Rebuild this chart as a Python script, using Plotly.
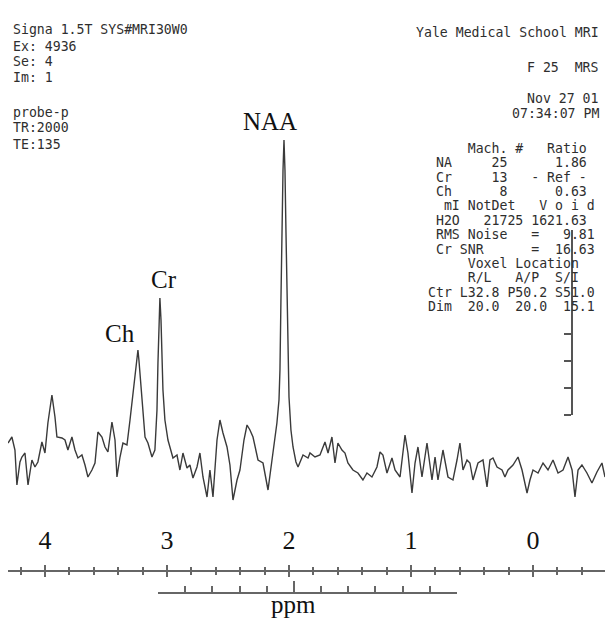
import plotly.graph_objects as go

# ---------------- data ----------------
ppm = [4.303, 4.271, 4.246, 4.230, 4.205, 4.189, 4.164, 4.139, 4.107, 4.082, 4.058, 4.025, 4.000,
       3.976, 3.943, 3.918, 3.902, 3.861, 3.836, 3.812, 3.779, 3.754, 3.730, 3.697, 3.672, 3.648,
       3.615, 3.590, 3.566, 3.533, 3.508, 3.484, 3.451, 3.426, 3.410, 3.385, 3.361, 3.328, 3.303,
       3.279, 3.262, 3.246, 3.238, 3.230, 3.221, 3.205, 3.180, 3.156, 3.123, 3.099, 3.082, 3.074,
       3.066, 3.058, 3.049, 3.041, 3.033, 3.017, 2.992, 2.976, 2.951, 2.918, 2.894, 2.869, 2.836,
       2.812, 2.787, 2.754, 2.730, 2.705, 2.672, 2.648, 2.623, 2.590, 2.566, 2.541, 2.508, 2.484,
       2.459, 2.426, 2.402, 2.369, 2.344, 2.320, 2.295, 2.254, 2.213, 2.172, 2.139, 2.115, 2.099,
       2.082, 2.074, 2.066, 2.058, 2.049, 2.041, 2.033, 2.025, 2.017, 2.008, 2.000, 1.984, 1.967,
       1.943, 1.926, 1.885, 1.844, 1.828, 1.787, 1.746, 1.705, 1.680, 1.648, 1.623, 1.599, 1.566,
       1.541, 1.517, 1.476, 1.435, 1.394, 1.361, 1.320, 1.279, 1.254, 1.230, 1.197, 1.156, 1.131,
       1.090, 1.049, 1.025, 0.992, 0.967, 0.943, 0.910, 0.869, 0.828, 0.803, 0.779, 0.738, 0.697,
       0.656, 0.623, 0.599, 0.574, 0.541, 0.517, 0.492, 0.451, 0.410, 0.377, 0.353, 0.328, 0.295,
       0.254, 0.230, 0.205, 0.164, 0.123, 0.090, 0.049, 0.025, 0.000, -0.041, -0.082, -0.123,
       -0.164, -0.205, -0.246, -0.287, -0.320, -0.344, -0.369, -0.401, -0.442, -0.483, -0.524,
       -0.565, -0.590]
signal = [17, 23, 10, -25, -2, 3, 7, -25, 0, -7, -2, 18, 7,
          37, 65, 43, 23, 22, 20, 10, 23, 10, 2, 5, -5, -17,
          -10, -3, 28, 23, 13, 8, 38, 20, -17, 3, 17, 15, 40,
          67, 85, 102, 110, 100, 85, 65, 23, 17, 3, 10, 50, 97,
          140, 162, 140, 97, 70, 40, 20, 13, 2, 5, -10, 7, -8,
          -5, -18, -7, 7, -17, -37, -10, -37, 20, 40, 27, 13, -5,
          -40, -20, -10, 20, 35, 30, 23, 0, -3, -30, 0, 20, 37,
          60, 90, 160, 230, 290, 320, 290, 230, 160, 100, 63, 30, 13,
          -2, -7, 5, 2, 7, 3, 5, 18, 7, 23, -3, 17, 10,
          7, -3, -10, -13, -20, -13, -17, -7, 8, 5, -13, 2, -10,
          -17, 25, 7, -33, -3, 13, -17, 17, -20, 3, -20, 10, -17,
          -20, 0, 17, -10, 0, -3, -20, -3, 0, -27, 0, 2, -7,
          -10, -17, -10, -5, 3, -10, -33, -20, -10, -13, -3, -10,
          0, -13, -10, 3, -10, -37, -10, -5, -13, -23, -12, -3,
          -17]

peak_labels = ["NAA", "Cr", "Ch"]
ppm_ticks = [4, 3, 2, 1, 0]
ppm_tick_labels = ["4", "3", "2", "1", "0"]

header_left = ["Signa 1.5T SYS#MRI30W0", "Ex: 4936", "Se: 4", "Im: 1",
               "probe-p", "TR:2000", "TE:135"]
header_right = ["Yale Medical School MRI", "F 25  MRS", "Nov 27 01", "07:34:07 PM"]
table_rows = ["     Mach. #   Ratio",
              " NA     25      1.86",
              " Cr     13   - Ref -",
              " Ch      8      0.63",
              "  mI NotDet   V o i d",
              " H2O   21725 1621.63",
              " RMS Noise   =   9.81",
              " Cr SNR      =  16.63",
              "     Voxel Location",
              "     R/L   A/P  S/I",
              "Ctr L32.8 P50.2 S51.0",
              "Dim  20.0  20.0  15.1"]

# ---------------- layout helpers ----------------
W, H = 613, 618


def px(x):
    return x / W


def py(y):
    return 1 - y / H


def nb(s):
    return s.replace(" ", "\u00a0")


X0, X1 = 8, 605
xrange_ = [4.303, -0.590]
mono = dict(family="DejaVu Sans Mono", size=13.2, color="#2e2e2e")
serif = "Liberation Serif, Times New Roman, serif"
axis_col = "#666666"

fig = go.Figure()
fig.add_trace(go.Scatter(x=ppm, y=signal, mode="lines",
                         line=dict(color="#3a3a3a", width=1.4),
                         showlegend=False, hoverinfo="skip"))
# empty traces so the extra axes are drawn
fig.add_trace(go.Scatter(x=[None], y=[None], xaxis="x2", yaxis="y", showlegend=False))
fig.add_trace(go.Scatter(x=[None], y=[None], xaxis="x3", yaxis="y", showlegend=False))
fig.add_trace(go.Scatter(x=[None], y=[None], xaxis="x", yaxis="y2", showlegend=False))

axis_pos = py(571)

fig.update_layout(
    width=W, height=H, margin=dict(l=0, r=0, t=0, b=0),
    paper_bgcolor="white", plot_bgcolor="rgba(0,0,0,0)",
    xaxis=dict(domain=[px(X0), px(X1)], range=xrange_, anchor="free", position=axis_pos,
               side="top", showline=True, linecolor=axis_col, linewidth=2,
               ticks="outside", ticklen=5, tickwidth=2, tickcolor=axis_col,
               tickvals=ppm_ticks, ticktext=ppm_tick_labels,
               tickfont=dict(family=serif, size=26, color="#111"),
               ticklabelstandoff=6,
               minor=dict(dtick=0.2, tick0=0, ticks="outside", ticklen=3, tickwidth=1.5,
                          tickcolor=axis_col, showgrid=False),
               showgrid=False, zeroline=False, fixedrange=True),
    xaxis3=dict(domain=[px(X0), px(X1)], range=xrange_, anchor="free", position=axis_pos,
                overlaying="x", side="bottom", showline=False,
                ticks="outside", ticklen=5, tickwidth=2, tickcolor=axis_col,
                tickvals=ppm_ticks, showticklabels=False,
                minor=dict(dtick=0.2, tick0=0, ticks="outside", ticklen=3, tickwidth=1.5,
                           tickcolor=axis_col, showgrid=False),
                showgrid=False, zeroline=False),
    xaxis2=dict(domain=[px(158), px(457)], range=[0, 11], anchor="free", position=py(593),
                side="bottom", showline=True, linecolor=axis_col, linewidth=2,
                ticks="inside", tickvals=[5], ticklen=11, tickwidth=1.5, tickcolor=axis_col,
                showticklabels=False,
                minor=dict(tickvals=list(range(12)), ticks="inside", ticklen=6, tickwidth=1.5,
                           tickcolor=axis_col, showgrid=False),
                showgrid=False, zeroline=False),
    yaxis=dict(domain=[0, 1], range=[-158, 460], visible=False, fixedrange=True),
    yaxis2=dict(domain=[py(415), py(230)], range=[0, 6.85], anchor="free", position=px(572),
                side="left", showline=True, linecolor="#555", linewidth=2,
                ticks="outside", tickvals=[0, 1, 2, 3], ticklen=7, tickwidth=1.5,
                tickcolor="#555", showticklabels=False, showgrid=False, zeroline=False),
)

ann = []
# peak labels
for lab, (x, y) in zip(peak_labels, [(270, 121), (164, 280), (120, 333)]):
    ann.append(dict(text=lab, x=px(x), y=py(y), xref="paper", yref="paper",
                    xanchor="center", yanchor="middle", showarrow=False,
                    font=dict(family=serif, size=25, color="#111")))
ann.append(dict(text="ppm", x=px(293), y=py(604), xref="paper", yref="paper",
                xanchor="center", yanchor="middle", showarrow=False,
                font=dict(family=serif, size=25, color="#111")))

for t, y in zip(header_left, [30, 46, 61.5, 77, 112, 128, 144]):
    ann.append(dict(text=nb(t), x=px(11), y=py(y), xref="paper", yref="paper",
                    xanchor="left", yanchor="middle", showarrow=False, font=mono))
for t, y in zip(header_right, [32, 67, 98, 113]):
    ann.append(dict(text=nb(t), x=px(601), y=py(y), xref="paper", yref="paper",
                    xanchor="right", yanchor="middle", showarrow=False, font=mono))
for i, t in enumerate(table_rows):
    y = 148.3 + i * 14.4
    ann.append(dict(text=nb(t), x=px(427), y=py(y), xref="paper", yref="paper",
                    xanchor="left", yanchor="middle", showarrow=False, font=mono,
                    borderpad=0))

fig.update_layout(annotations=ann)
fig.write_html("out.html")
